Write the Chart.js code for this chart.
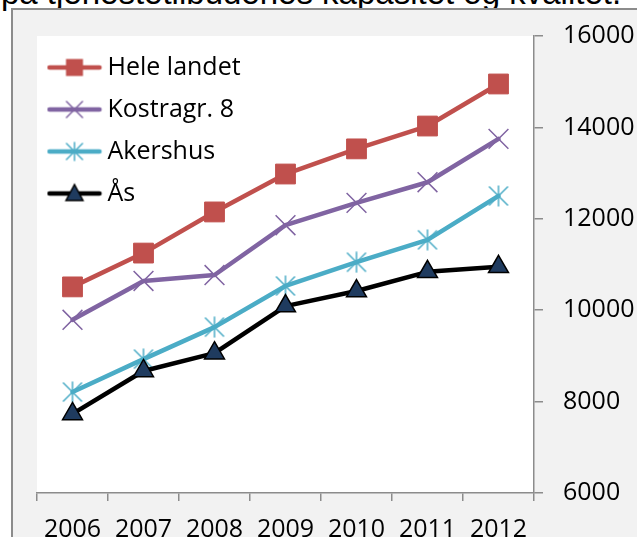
<!DOCTYPE html>
<html>
<head>
<meta charset="utf-8">
<script src="https://cdn.jsdelivr.net/npm/chart.js@4.4.1/dist/chart.umd.min.js"></script>
<style>
  html, body { margin: 0; padding: 0; overflow: hidden; background: #fff; width: 637px; height: 537px; }
  #title { position: absolute; left: 1px; top: -24px; font: 33px "Liberation Sans", Arial, sans-serif; line-height: 33px; white-space: nowrap; color: #000; }
  #frame { position: absolute; left: 11px; top: 8px; width: 700px; height: 600px; border-left: 2px solid #8c8c8c; border-top: 2px solid #8c8c8c; background: #f2f2f2; }
  #wrap { position: absolute; left: 0; top: 0; width: 637px; height: 560px; }
</style>
</head>
<body>
<div id="title">på tjenestetilbudenes kapasitet og kvalitet.</div>
<div id="frame"></div>
<div id="wrap"><canvas id="chart"></canvas></div>
<script>
// values
const years = ["2006", "2007", "2008", "2009", "2010", "2011", "2012"];
const seriesNames = ["Hele landet", "Kostragr. 8", "Akershus", "Ås"];
const heleLandet = [10510, 11250, 12150, 12980, 13530, 14030, 14950];
const kostragr8 = [9790, 10640, 10770, 11860, 12350, 12800, 13750];
const akershus = [8210, 8930, 9630, 10530, 11050, 11540, 12500];
const aas = [7730, 8670, 9060, 10090, 10420, 10840, 10950];
const yTicks = [6000, 8000, 10000, 12000, 14000, 16000];

const FONT = { family: "'Open Sans', sans-serif", size: 25 };
const AXIS = "#8c8c8c";

// asterisk marker (x plus vertical bar), like the spreadsheet "star"
function starMarker(color, size) {
  const c = document.createElement("canvas");
  c.width = c.height = size;
  const g = c.getContext("2d");
  const m = size / 2, d = size / 2 - 1.5;
  g.strokeStyle = color;
  g.lineWidth = 1.5;
  g.beginPath();
  g.moveTo(m - d, m - d); g.lineTo(m + d, m + d);
  g.moveTo(m + d, m - d); g.lineTo(m - d, m + d);
  g.moveTo(m, m - d - 1); g.lineTo(m, m + d + 1);
  g.stroke();
  return c;
}

// legend icon: line with the marker in the middle
function legendIcon(color, marker, fill) {
  const c = document.createElement("canvas");
  c.width = 56; c.height = 24;
  const g = c.getContext("2d");
  g.strokeStyle = color;
  g.lineWidth = 4.5;
  g.lineCap = "round";
  g.beginPath(); g.moveTo(3, 12); g.lineTo(53, 12); g.stroke();
  const x = 28, y = 12;
  g.lineWidth = 1.5;
  if (marker === "rect") {
    g.fillStyle = color;
    g.fillRect(x - 8.5, y - 8.5, 17, 17);
  } else if (marker === "x") {
    g.beginPath();
    g.moveTo(x - 8, y - 8); g.lineTo(x + 8, y + 8);
    g.moveTo(x + 8, y - 8); g.lineTo(x - 8, y + 8);
    g.stroke();
  } else if (marker === "star") {
    g.beginPath();
    g.moveTo(x - 8, y - 8); g.lineTo(x + 8, y + 8);
    g.moveTo(x + 8, y - 8); g.lineTo(x - 8, y + 8);
    g.moveTo(x, y - 9); g.lineTo(x, y + 9);
    g.stroke();
  } else if (marker === "triangle") {
    g.fillStyle = fill;
    g.strokeStyle = "#000";
    g.beginPath();
    g.moveTo(x, y - 9); g.lineTo(x + 8.5, y + 7); g.lineTo(x - 8.5, y + 7);
    g.closePath(); g.fill(); g.stroke();
  }
  return c;
}

const colors = ["#c0504d", "#8064a2", "#4bacc6", "#000000"];
const triFill = "#1f3b5f";
const icons = [
  legendIcon(colors[0], "rect"),
  legendIcon(colors[1], "x"),
  legendIcon(colors[2], "star"),
  legendIcon(colors[3], "triangle", triFill),
];

const plotBg = {
  id: "plotBg",
  beforeDraw(chart) {
    const { ctx, chartArea: a } = chart;
    ctx.save();
    ctx.fillStyle = "#fff";
    ctx.fillRect(a.left, a.top, a.right - a.left, a.bottom - a.top);
    ctx.restore();
  },
};

// the chartArea legend gets top reset to 0, put it back inside the plot
const legendInPlot = {
  id: "legendInPlot",
  afterLayout(chart) {
    const lg = chart.legend, a = chart.chartArea;
    if (!lg) return;
    lg.top = a.top + 2;
    lg.bottom = a.bottom;
    lg.height = lg.bottom - lg.top;
  },
};

const lineCommon = {
  borderWidth: 4.5,
  tension: 0,
  borderJoinStyle: "round",
  borderCapStyle: "round",
  fill: false,
};

new Chart(document.getElementById("chart"), {
  type: "line",
  data: {
    labels: years,
    datasets: [
      Object.assign({
        label: seriesNames[0], data: heleLandet, order: 4,
        borderColor: colors[0], pointStyle: "rect", pointRadius: 14,
        pointBackgroundColor: colors[0], pointBorderColor: colors[0], pointBorderWidth: 1,
      }, lineCommon),
      Object.assign({
        label: seriesNames[1], data: kostragr8, order: 3,
        borderColor: colors[1], pointStyle: "crossRot", pointRadius: 14,
        pointBorderColor: colors[1], pointBorderWidth: 1.5,
      }, lineCommon),
      Object.assign({
        label: seriesNames[2], data: akershus, order: 2,
        borderColor: colors[2], pointStyle: starMarker(colors[2], 22), pointRadius: 11,
      }, lineCommon),
      Object.assign({
        label: seriesNames[3], data: aas, order: 1,
        borderColor: colors[3], pointStyle: "triangle", pointRadius: 11.5,
        pointBackgroundColor: triFill, pointBorderColor: "#000", pointBorderWidth: 1.5,
      }, lineCommon),
    ],
  },
  options: {
    responsive: true,
    maintainAspectRatio: false,
    animation: false,
    layout: { padding: { left: 37, top: 36, right: 0, bottom: 0 } },
    scales: {
      x: {
        offset: true,
        grid: { offset: true, drawOnChartArea: false, tickLength: 8, color: AXIS, lineWidth: 1.5 },
        border: { color: AXIS, width: 1.5 },
        ticks: { color: "#000", font: FONT, padding: 14, maxRotation: 0, autoSkip: false },
        afterFit: (s) => { s.height = 560 - 493; },
      },
      y: {
        position: "right",
        min: yTicks[0],
        max: yTicks[yTicks.length - 1],
        afterBuildTicks: (s) => { s.ticks = yTicks.map((v) => ({ value: v })); },
        grid: { drawOnChartArea: false, tickLength: 9, color: AXIS, lineWidth: 1.5 },
        border: { color: AXIS, width: 1.5 },
        ticks: { color: "#000", font: FONT, padding: 20, callback: (v) => String(v) },
        afterFit: (s) => { s.width = 637 - 534; },
      },
    },
    plugins: {
      tooltip: { enabled: false },
      legend: {
        position: "chartArea",
        align: "start",
        labels: {
          usePointStyle: true,
          pointStyleWidth: 41,
          padding: 17,
          color: "#000",
          font: FONT,
          generateLabels: (chart) => chart.data.datasets.map((ds, i) => ({
            text: ds.label,
            fillStyle: colors[i],
            strokeStyle: colors[i],
            lineWidth: 0,
            pointStyle: icons[i],
            hidden: false,
            datasetIndex: i,
          })),
        },
      },
    },
  },
  plugins: [plotBg, legendInPlot],
});
</script>
</body>
</html>
